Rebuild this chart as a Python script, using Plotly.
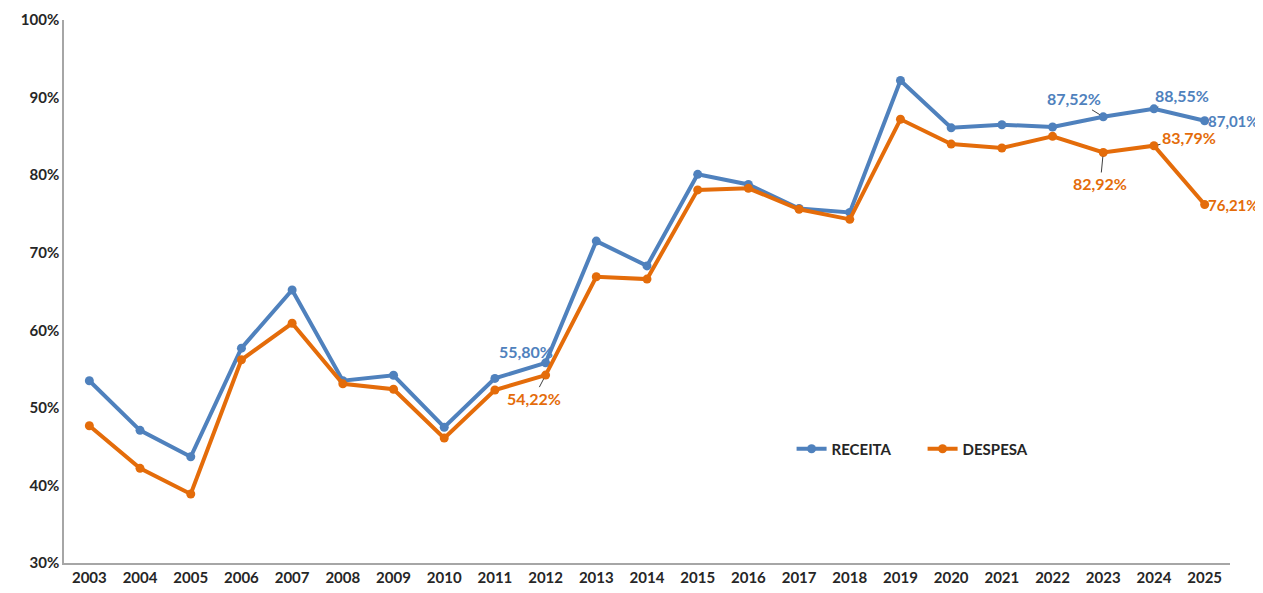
import plotly.graph_objects as go

anos = [str(a) for a in range(2003, 2026)]
receita = [53.5, 47.1, 43.7, 57.7, 65.2, 53.5, 54.2, 47.5, 53.8, 55.80,
           71.5, 68.3, 80.1, 78.8, 75.7, 75.2, 92.2, 86.1, 86.5, 86.2,
           87.52, 88.55, 87.01]
despesa = [47.7, 42.2, 38.9, 56.2, 60.9, 53.1, 52.4, 46.1, 52.3, 54.22,
           66.9, 66.6, 78.1, 78.3, 75.6, 74.3, 87.2, 84.0, 83.5, 85.0,
           82.92, 83.79, 76.21]
y_ticks = [30, 40, 50, 60, 70, 80, 90, 100]

AZUL = "#4F81BD"
LARANJA = "#E46C0A"
FONTE = "Lato"

fig = go.Figure()
fig.add_trace(go.Scatter(x=anos, y=receita, name="RECEITA", mode="lines+markers",
                         line=dict(color=AZUL, width=4), marker=dict(size=9, color=AZUL)))
fig.add_trace(go.Scatter(x=anos, y=despesa, name="DESPESA", mode="lines+markers",
                         line=dict(color=LARANJA, width=4), marker=dict(size=9, color=LARANJA)))


def fmt(v):
    return "<b>" + f"{v:.2f}%".replace(".", ",") + "</b>"


# rótulos de dados: (série, ano, cor, ax, ay, seta)
rotulos = [
    (receita, "2012", AZUL, -20, -11, False),
    (despesa, "2012", LARANJA, -12, 23, True),
    (receita, "2023", AZUL, -29, -18, True),
    (receita, "2024", AZUL, 28, -13, True),
    (despesa, "2023", LARANJA, -3, 31, True),
    (despesa, "2024", LARANJA, 35, -8, True),
]
anotacoes = []
for serie, ano, cor, ax, ay, seta in rotulos:
    i = anos.index(ano)
    v = serie[i]
    a = dict(x=i, y=v, xref="x", yref="y", text=fmt(v),
             font=dict(family=FONTE, size=16, color=cor))
    if seta:
        a.update(showarrow=True, arrowhead=0, arrowwidth=1, arrowcolor="#404040",
                 ax=ax, ay=ay, standoff=4)
    else:
        a.update(showarrow=False, xshift=ax, yshift=-ay)
    anotacoes.append(a)

# rótulos do último ano, à direita do ponto
for serie, cor in [(receita, AZUL), (despesa, LARANJA)]:
    anotacoes.append(dict(x=len(anos) - 1, y=serie[-1], xref="x", yref="y",
                          text=fmt(serie[-1]), showarrow=False, xanchor="left",
                          xshift=1, font=dict(family=FONTE, size=15, color=cor)))

fig.update_layout(
    width=1255, height=585,
    margin=dict(l=56, r=33, t=12, b=30),
    paper_bgcolor="white", plot_bgcolor="white",
    font=dict(family=FONTE, size=15, color="#262626"),
    annotations=anotacoes,
    showlegend=True,
    legend=dict(orientation="h", x=0.624, y=0.21, xanchor="left", yanchor="middle",
                font=dict(size=15, family=FONTE, weight="bold"),
                bgcolor="rgba(0,0,0,0)", entrywidth=86),
    xaxis=dict(type="category", range=[-0.5, 22.5], showgrid=False, showline=True,
               linecolor="#A6A6A6", linewidth=1.5, ticks="", automargin=False,
               tickfont=dict(size=15, family=FONTE, color="#262626", weight="bold")),
    yaxis=dict(range=[30, 100], tickvals=y_ticks, ticktext=[f"{t}%" for t in y_ticks],
               showgrid=False, zeroline=False, showline=True, linecolor="#A6A6A6",
               linewidth=1.5, ticks="", automargin=False,
               tickfont=dict(size=15, family=FONTE, color="#262626", weight="bold")),
)

fig.write_html("out.html")
